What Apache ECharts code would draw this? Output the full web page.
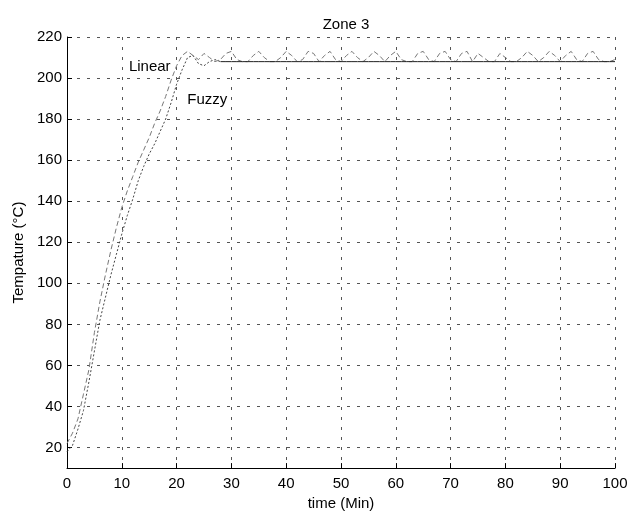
<!DOCTYPE html>
<html>
<head>
<meta charset="utf-8">
<script src="https://cdn.jsdelivr.net/npm/echarts@6/dist/echarts.min.js"></script>
<style>
  html, body { margin: 0; padding: 0; background: #fff; }
  #chart { width: 640px; height: 516px; }
</style>
</head>
<body>
<div id="chart"></div>
<script>
// time in minutes, one sample per minute
const timeMin = [
  0, 1, 2, 3, 4, 5, 6, 7, 8, 9, 10, 11, 12, 13, 14, 15, 16, 17, 18, 19, 20,
  21, 22, 23, 24, 25, 26, 27, 28, 29, 30, 31, 32, 33, 34, 35, 36, 37, 38, 39, 40,
  41, 42, 43, 44, 45, 46, 47, 48, 49, 50, 51, 52, 53, 54, 55, 56, 57, 58, 59, 60,
  61, 62, 63, 64, 65, 66, 67, 68, 69, 70, 71, 72, 73, 74, 75, 76, 77, 78, 79, 80,
  81, 82, 83, 84, 85, 86, 87, 88, 89, 90, 91, 92, 93, 94, 95, 96, 97, 98, 99, 100,
]

// Linear controller (dashed, oscillates above the set point)
const linearTemp = [
  22, 27, 34, 46, 58, 76, 91, 104, 116, 127, 137, 145, 152, 159, 165, 171, 178, 184, 191, 199, 206,
  211, 213, 211, 209, 212, 210, 208, 209, 212, 213, 209, 208, 208, 211, 213, 210, 208, 208, 210, 213,
  211, 208, 209, 213, 212, 208, 211, 213, 209, 208, 211, 213, 210, 208, 210, 213, 211, 208, 211, 213,
  209, 208, 208, 212, 213, 209, 208, 212, 213, 209, 208, 212, 213, 208, 212, 210, 208, 208, 212, 210,
  208, 208, 210, 213, 211, 208, 210, 213, 211, 208, 211, 213, 209, 208, 212, 213, 209, 208, 208, 209,
]

// Fuzzy controller (settles flat at ~208)
const fuzzyTemp = [
  18, 21, 29, 38, 52, 67, 82, 93, 104, 114, 124, 133, 141, 150, 157, 163, 168, 174, 180, 188, 197,
  204, 210, 211, 207, 206, 208, 209, 208, 208, 208, 208, 208, 208, 208, 208, 208, 208, 208, 208, 208,
  208, 208, 208, 208, 208, 208, 208, 208, 208, 208, 208, 208, 208, 208, 208, 208, 208, 208, 208, 208,
  208, 208, 208, 208, 208, 208, 208, 208, 208, 208, 208, 208, 208, 208, 208, 208, 208, 208, 208, 208,
  208, 208, 208, 208, 208, 208, 208, 208, 208, 208, 208, 208, 208, 208, 208, 208, 208, 208, 208, 208,
]

// index where the fuzzy trace changes from dotted rise to solid line
const fuzzySettle = 28

const xTicks = [0, 10, 20, 30, 40, 50, 60, 70, 80, 90, 100]

// where the two curve labels sit, in data units
const linearLabelAt = [15.1, 205.5]
const fuzzyLabelAt = [25.6, 189.3]

const toPairs = (xs, ys) => xs.map((x, i) => [x, ys[i]])

const linearData = toPairs(timeMin, linearTemp)
const fuzzyData = toPairs(timeMin, fuzzyTemp)

const font = 'Liberation Sans, Arial, sans-serif'
const gridLine = { show: true, lineStyle: { color: '#555', type: [3, 7], width: 1 } }

// a text-only marker for naming a curve
const curveLabel = (text, coord) => ({
  symbol: 'circle',
  symbolSize: 1,
  itemStyle: { color: 'rgba(0,0,0,0)' },
  label: { show: true, position: 'inside', formatter: text, fontFamily: font, fontSize: 15, color: '#000' },
  data: [{ coord: coord }],
})

const myChart = echarts.init(document.getElementById('chart'))

const option = {
  animation: false,
  backgroundColor: '#fff',
  title: {
    text: 'Zone 3',
    left: 341,
    top: 12,
    textAlign: 'center',
    textStyle: { fontFamily: font, fontSize: 15, fontWeight: 'normal', color: '#000' },
  },
  grid: { left: 67, right: 25, top: 37, bottom: 45 },
  xAxis: {
    type: 'value',
    min: xTicks[0],
    max: xTicks[xTicks.length - 1],
    interval: 10,
    name: 'time (Min)',
    nameLocation: 'middle',
    nameGap: 27,
    nameTextStyle: { fontFamily: font, fontSize: 15, color: '#000' },
    axisLine: { show: true, lineStyle: { color: '#000', width: 1 } },
    axisTick: { show: true, inside: true, length: 5, lineStyle: { color: '#000' } },
    axisLabel: { fontFamily: font, fontSize: 15, color: '#000', margin: 8 },
    splitLine: gridLine,
  },
  yAxis: {
    type: 'value',
    min: 10,
    max: 220,
    splitNumber: 10,
    name: 'Tempature (°C)',
    nameLocation: 'middle',
    nameGap: 40,
    nameTextStyle: { fontFamily: font, fontSize: 15, color: '#000' },
    axisLine: { show: true, lineStyle: { color: '#000', width: 1 } },
    axisTick: { show: true, inside: true, length: 5, lineStyle: { color: '#000' } },
    axisLabel: {
      fontFamily: font,
      fontSize: 15,
      color: '#000',
      margin: 5,
      formatter: (v) => (v % 20 === 0 ? String(v) : ''),
    },
    splitLine: gridLine,
  },
  series: [
    {
      name: 'Linear',
      type: 'line',
      data: linearData,
      showSymbol: false,
      lineStyle: { color: '#777', width: 1, type: [5, 3] },
      markPoint: curveLabel('Linear', linearLabelAt),
    },
    {
      name: 'Fuzzy rise',
      type: 'line',
      data: fuzzyData.slice(0, fuzzySettle + 1),
      showSymbol: false,
      lineStyle: { color: '#444', width: 1, type: [2, 2] },
      markPoint: curveLabel('Fuzzy', fuzzyLabelAt),
    },
    {
      name: 'Fuzzy',
      type: 'line',
      data: fuzzyData.slice(fuzzySettle),
      showSymbol: false,
      lineStyle: { color: '#222', width: 1 },
    },
  ],
}

myChart.setOption(option)
</script>
</body>
</html>
